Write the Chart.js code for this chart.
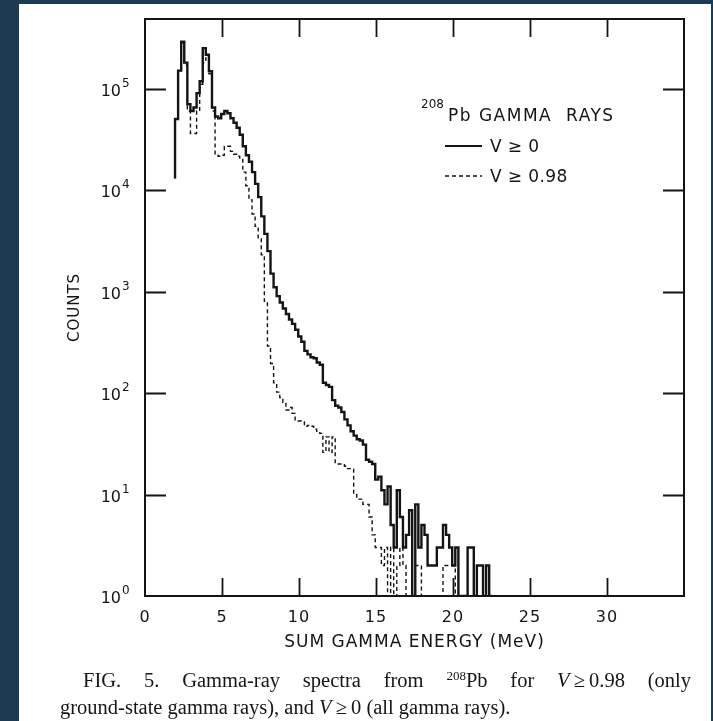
<!DOCTYPE html>
<html>
<head>
<meta charset="UTF-8">
<title>208Pb gamma-ray spectra</title>
<script src="https://cdn.jsdelivr.net/npm/chart.js@4.4.1/dist/chart.umd.min.js"></script>
<style>
  html, body { margin: 0; padding: 0; background: #1c3a52; }
  #page { position: absolute; left: 19px; top: 4px; width: 692px; height: 717px; background: #fff; }
  #wrap { position: absolute; left: 0; top: 0; width: 713px; height: 721px; }
  .cap { position: absolute; font-family: "Liberation Serif", serif; font-size: 20.5px; line-height: 27px; color: #151515; white-space: nowrap; }
  #cap1 { left: 83px; top: 667px; width: 608px; text-align: justify; text-align-last: justify; white-space: normal; }
  #cap2 { left: 60px; top: 694px; }
  .cap sup { font-size: 13px; vertical-align: 7px; line-height: 0; }
</style>
</head>
<body>
<div id="page"></div>
<div id="wrap"><canvas id="spectra" width="713" height="721"></canvas></div>
<div class="cap" id="cap1">FIG. 5. Gamma-ray spectra from <sup>208</sup>Pb for <i>V</i>&#8201;≥&#8201;0.98 (only</div>
<div class="cap" id="cap2">ground-state gamma rays), and <i>V</i>&#8201;≥&#8201;0 (all gamma rays).</div>
<script>
// histogram bins: 0.2 MeV wide, first bin starts at 1.95 MeV
const binStart = 1.95;
const binWidth = 0.2;
const riseFrom = 13000; // level the left edge of the spectrum climbs from

// counts per bin, V >= 0 (all gamma rays); 1 = empty bin on the axis
const allGamma = [
  50000, 150000, 290000, 180000, 70000, 60000, 65000, 90000, 118000, 250000,
  215000, 148000, 65000, 53000, 51000, 56000, 60000, 57000, 51000, 46000,
  41000, 35000, 27000, 22000, 19000, 15000, 11500, 8500, 5500, 3700,
  2500, 1500, 1100, 900, 780, 680, 600, 530, 480, 420,
  360, 320, 260, 240, 225, 220, 200, 190, 126, 120,
  115, 85, 75, 72, 65, 55, 48, 42, 38, 35,
  34, 31, 22, 21, 20, 14, 15, 11, 8, 12,
  5, 3, 11, 6, 3, 4, 7, 1, 8, 3,
  5, 4, 2, 2, 2, 3, 3, 5, 4, 3,
  2, 3, 1, 1, 1, 3, 3, 1, 2, 2,
  1, 2, 1
];

// counts per bin, V >= 0.98 (ground-state gamma rays)
const groundState = [
  50000, 150000, 280000, 170000, 60000, 36000, 36000, 60000, 110000, 180000,
  200000, 140000, 60000, 22000, 21500, 22000, 27000, 27000, 24000, 22500,
  21500, 20000, 15000, 11000, 8000, 5800, 4400, 3300, 2300, 800,
  290, 195, 126, 102, 90, 81, 68, 72, 63, 54,
  53, 52, 47, 48, 47, 44, 42, 40, 26, 37,
  26, 37, 20, 20, 20, 19, 18, 18, 10, 9,
  9, 8, 8, 6, 4, 3, 3, 2, 3, 1,
  3, 1, 2, 3, 2, 1, 1, 2, 2, 2,
  1, 1, 1, 1, 1, 1, 1, 2, 2, 2,
  2, 1
];

const xTicks = [0, 5, 10, 15, 20, 25, 30, 35];
const yDecades = [0, 1, 2, 3, 4, 5];
const seriesLabels = ['V \u2265 0', 'V \u2265 0.98'];

const ink = '#141414';
const sans = '"DejaVu Sans", sans-serif';

// turn per-bin counts into points for a stepped line
function histogramPoints(counts) {
  const pts = [{ x: binStart, y: riseFrom }];
  counts.forEach((c, i) => pts.push({ x: binStart + i * binWidth, y: c }));
  pts.push({ x: binStart + counts.length * binWidth, y: counts[counts.length - 1] });
  return pts;
}

// slightly spaced-out lettering for the axis text
const spacing = {
  id: 'spacing',
  beforeDraw(chart) { chart.ctx.letterSpacing = '1px'; },
  beforeDatasetsDraw(chart) { chart.ctx.letterSpacing = '0px'; }
};

// frame, inward ticks, power-of-ten labels and the legend box
const decorations = {
  id: 'decorations',
  afterDatasetsDraw(chart) {
    const { ctx, chartArea: a, scales: { x, y } } = chart;
    ctx.save();
    ctx.strokeStyle = ink;
    ctx.lineWidth = 2;
    ctx.strokeRect(a.left, a.top, a.right - a.left, a.bottom - a.top);

    ctx.lineWidth = 1.8;
    ctx.beginPath();
    xTicks.forEach(v => {
      if (v <= x.min || v >= x.max) return;
      const px = Math.round(x.getPixelForValue(v)) + 0.5;
      ctx.moveTo(px, a.bottom); ctx.lineTo(px, a.bottom - 18);
      ctx.moveTo(px, a.top); ctx.lineTo(px, a.top + 18);
    });
    yDecades.forEach(d => {
      const v = Math.pow(10, d);
      if (v <= y.min || v >= y.max) return;
      const py = Math.round(y.getPixelForValue(v)) + 0.5;
      ctx.moveTo(a.left, py); ctx.lineTo(a.left + 21, py);
      ctx.moveTo(a.right, py); ctx.lineTo(a.right - 21, py);
    });
    ctx.stroke();

    ctx.fillStyle = ink;
    ctx.textBaseline = 'alphabetic';
    yDecades.forEach(d => {
      const py = y.getPixelForValue(Math.pow(10, d));
      ctx.font = '16px ' + sans;
      ctx.textAlign = 'right';
      ctx.fillText('10', a.left - 24, py + 7);
      ctx.font = '12px ' + sans;
      ctx.textAlign = 'left';
      ctx.fillText(String(d), a.left - 23, py - 2);
    });

    // legend
    ctx.textAlign = 'left';
    ctx.font = '12px ' + sans;
    ctx.fillText('208', 421, 108);
    ctx.font = '17px ' + sans;
    ctx.letterSpacing = '1.5px';
    ctx.fillText('Pb GAMMA  RAYS', 448, 121);
    ctx.letterSpacing = '0.4px';
    chart.data.datasets.forEach((ds, i) => {
      const ly = 146 + i * 30;
      ctx.save();
      ctx.strokeStyle = ds.borderColor;
      ctx.lineWidth = i === 0 ? 1.8 : 1.4;
      ctx.setLineDash(ds.borderDash || []);
      ctx.beginPath();
      ctx.moveTo(445, ly); ctx.lineTo(482, ly);
      ctx.stroke();
      ctx.restore();
      ctx.font = '17px ' + sans;
      ctx.fillText(ds.label, 490, ly + 6);
    });
    ctx.restore();
  }
};

new Chart(document.getElementById('spectra'), {
  type: 'line',
  data: {
    datasets: [
      {
        label: seriesLabels[0],
        data: histogramPoints(allGamma),
        stepped: 'before',
        borderColor: ink,
        borderWidth: 2.4,
        pointRadius: 0,
        fill: false
      },
      {
        label: seriesLabels[1],
        data: histogramPoints(groundState),
        stepped: 'before',
        borderColor: ink,
        borderWidth: 1.4,
        borderDash: [4, 3],
        pointRadius: 0,
        fill: false
      }
    ]
  },
  options: {
    responsive: false,
    animation: false,
    layout: { padding: { left: 0, top: 19, right: 29, bottom: 0 } },
    plugins: { legend: { display: false }, tooltip: { enabled: false } },
    scales: {
      x: {
        type: 'linear',
        min: 0,
        max: 35,
        afterBuildTicks: s => { s.ticks = xTicks.map(v => ({ value: v })); },
        afterFit: s => { s.height = 125; },
        grid: { display: false, drawTicks: false },
        border: { display: false },
        ticks: {
          padding: 12,
          color: ink,
          font: { family: sans, size: 16 },
          callback: v => (v === 35 ? '' : String(v))
        },
        title: {
          display: true,
          text: 'SUM GAMMA ENERGY (MeV)',
          color: ink,
          font: { family: sans, size: 17 },
          padding: { top: 0, bottom: 68 }
        }
      },
      y: {
        type: 'logarithmic',
        min: 1,
        max: 484000,
        afterBuildTicks: s => { s.ticks = yDecades.map(d => ({ value: Math.pow(10, d) })); },
        afterFit: s => { s.width = 145; },
        grid: { display: false, drawTicks: false },
        border: { display: false },
        ticks: { display: false },
        title: {
          display: true,
          text: 'COUNTS',
          color: ink,
          font: { family: sans, size: 15 },
          padding: { top: 66, bottom: 0 }
        }
      }
    }
  },
  plugins: [spacing, decorations]
});
</script>
</body>
</html>
